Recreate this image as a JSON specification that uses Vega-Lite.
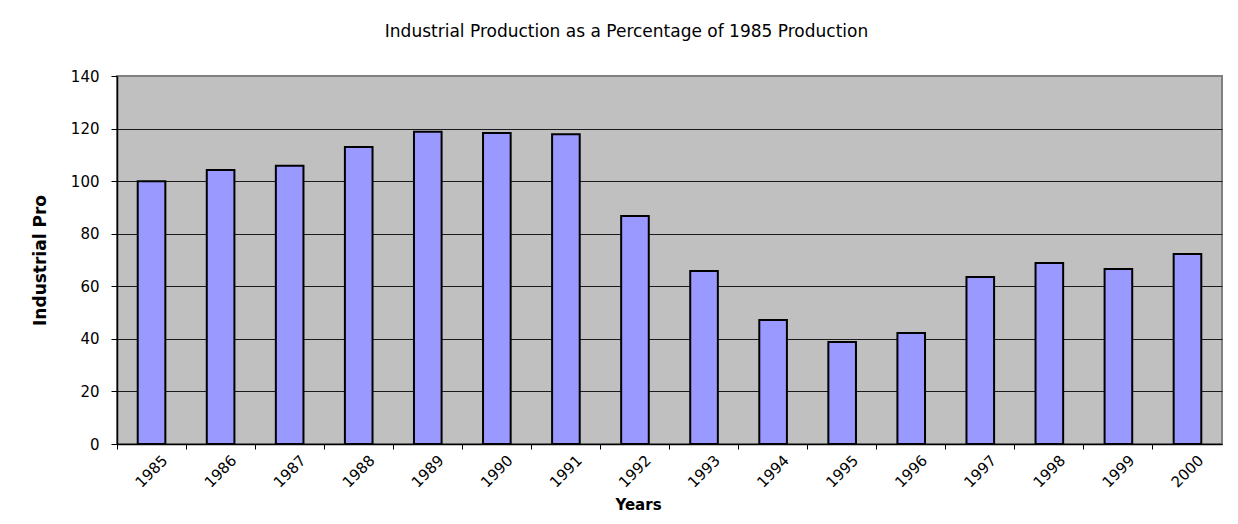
{
  "$schema": "https://vega.github.io/schema/vega-lite/v6.json",
  "width": 1105,
  "height": 368,
  "autosize": "none",
  "padding": {"left": 117, "top": 76, "right": 16, "bottom": 80},
  "background": "white",
  "title": {
    "text": "Industrial Production as a Percentage of 1985 Production",
    "font": "DejaVu Sans",
    "fontSize": 17,
    "fontWeight": "normal",
    "color": "black",
    "anchor": "middle",
    "frame": "bounds",
    "offset": 28
  },
  "data": {
    "values": [
      {"year": "1985", "value": 100},
      {"year": "1986", "value": 104.2},
      {"year": "1987", "value": 105.9},
      {"year": "1988", "value": 113},
      {"year": "1989", "value": 118.8},
      {"year": "1990", "value": 118.3},
      {"year": "1991", "value": 117.8},
      {"year": "1992", "value": 86.7},
      {"year": "1993", "value": 65.8},
      {"year": "1994", "value": 47.2},
      {"year": "1995", "value": 38.8},
      {"year": "1996", "value": 42.2},
      {"year": "1997", "value": 63.5},
      {"year": "1998", "value": 68.9},
      {"year": "1999", "value": 66.6},
      {"year": "2000", "value": 72.3}
    ]
  },
  "mark": {"type": "bar", "color": "#9999FF", "stroke": "black", "strokeWidth": 2},
  "encoding": {
    "x": {
      "field": "year",
      "type": "ordinal",
      "scale": {"paddingInner": 0.6, "paddingOuter": 0.3},
      "axis": {
        "title": "Years",
        "titleFont": "DejaVu Sans",
        "titleFontSize": 15,
        "titleFontWeight": "bold",
        "titleColor": "black",
        "titleX": 521,
        "titleY": 60,
        "titleBaseline": "middle",
        "titleAlign": "center",
        "bandPosition": -0.75,
        "labelAngle": -45,
        "labelAlign": "center",
        "labelBaseline": "middle",
        "labelPadding": 22,
        "labelFont": "DejaVu Sans",
        "labelFontSize": 15,
        "labelColor": "black",
        "tickSize": 5,
        "tickColor": "black",
        "domainColor": "black",
        "domainWidth": 1.5,
        "grid": false,
        "zindex": 1
      }
    },
    "y": {
      "field": "value",
      "type": "quantitative",
      "scale": {"domain": [0, 140], "nice": false},
      "axis": {
        "values": [0, 20, 40, 60, 80, 100, 120, 140],
        "title": "Industrial Pro",
        "titleFont": "DejaVu Sans",
        "titleFontSize": 17,
        "titleFontWeight": "bold",
        "titleColor": "black",
        "titleAngle": 270,
        "titleX": -77,
        "titleY": 184,
        "titleAlign": "center",
        "titleBaseline": "middle",
        "labelFont": "DejaVu Sans",
        "labelFontSize": 15,
        "labelColor": "black",
        "labelPadding": 12,
        "tickSize": 6,
        "tickColor": "black",
        "domainColor": "black",
        "domainWidth": 1.5,
        "grid": true,
        "gridColor": {"condition": {"test": "datum.value == 140", "value": "#808080"}, "value": "#1a1a1a"},
        "gridWidth": 1,
        "gridOpacity": 1
      }
    }
  },
  "config": {
    "view": {"fill": "#C0C0C0", "stroke": "#808080", "strokeWidth": 2}
  }
}
